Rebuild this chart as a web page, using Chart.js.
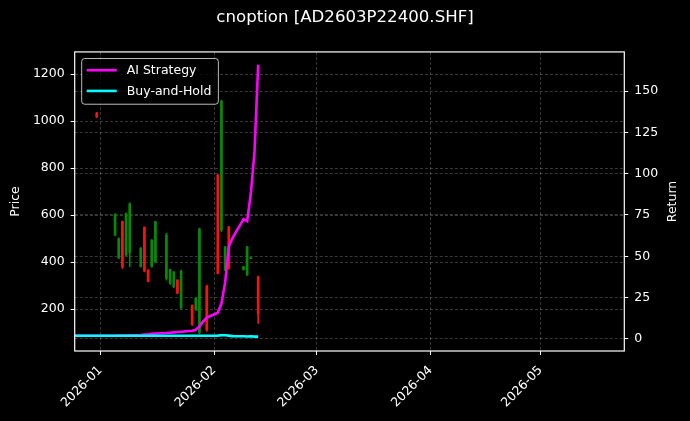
<!DOCTYPE html>
<html>
<head>
<meta charset="utf-8">
<script src="https://cdn.jsdelivr.net/npm/chart.js@4.4.1/dist/chart.umd.min.js"></script>
<style>
  html, body { margin:0; padding:0; background:#000; overflow:hidden }
  #wrap { width:690px; height:421px }
</style>
</head>
<body>
<div id="wrap"><canvas id="chart" width="690" height="421"></canvas></div>
<script>
// Chart text
const titleText   = 'cnoption [AD2603P22400.SHF]'
const priceLabel  = 'Price'
const returnLabel = 'Return'
const aiName      = 'AI Strategy'
const bhName      = 'Buy-and-Hold'

// Axis ticks
const monthTickDates  = ['2026-01-01','2026-02-01','2026-03-01','2026-04-01','2026-05-01']
const monthTickLabels = ['2026-01','2026-02','2026-03','2026-04','2026-05']
const priceTicks  = [200, 400, 600, 800, 1000, 1200]
const returnTicks = [0, 25, 50, 75, 100, 125, 150]

// Return series (right axis)
const lineDates = ['2025-12-25','2025-12-26','2025-12-29','2025-12-30','2025-12-31',
  '2026-01-05','2026-01-06','2026-01-07','2026-01-08','2026-01-09',
  '2026-01-12','2026-01-13','2026-01-14','2026-01-15','2026-01-16',
  '2026-01-19','2026-01-20','2026-01-21','2026-01-22','2026-01-23',
  '2026-01-26','2026-01-27','2026-01-28','2026-01-29','2026-01-30',
  '2026-02-02','2026-02-03','2026-02-04','2026-02-05','2026-02-06',
  '2026-02-09','2026-02-10','2026-02-11','2026-02-12','2026-02-13']
const aiReturn = [1.8, 1.8, 1.8, 1.8, 1.8,
  1.8, 1.9, 1.9, 2.0, 2.1,
  2.3, 2.5, 2.7, 3.0, 3.2,
  3.5, 3.7, 3.9, 4.1, 4.3,
  4.9, 5.5, 7.5, 10.5, 12.8,
  15.8, 21.4, 34, 56, 61,
  72.5, 71.3, 88, 113, 166]
const bhReturn = [1.8, 1.8, 1.8, 1.8, 1.8,
  1.8, 1.8, 1.8, 1.8, 1.8,
  1.8, 1.8, 1.8, 1.8, 1.8,
  1.8, 1.8, 1.8, 1.8, 1.8,
  1.8, 1.8, 1.8, 1.8, 1.8,
  1.9, 2.1, 2.1, 1.9, 1.6,
  1.5, 1.4, 1.5, 1.3, 1.3]

// Daily candles (left axis)
const candleDates = ['2025-12-31','2026-01-05','2026-01-06','2026-01-07','2026-01-08','2026-01-09',
  '2026-01-12','2026-01-13','2026-01-14','2026-01-15','2026-01-16',
  '2026-01-19','2026-01-20','2026-01-21','2026-01-22','2026-01-23',
  '2026-01-26','2026-01-27','2026-01-28','2026-01-30',
  '2026-02-02','2026-02-03','2026-02-04','2026-02-05',
  '2026-02-09','2026-02-10','2026-02-11','2026-02-13']
const opens  = [1035, 515, 418, 572, 430, 440, 380, 548, 366, 380, 401, 330, 309, 295, 323, 205, 215, 196, 100, 298, 770, 536, 366, 550, 368, 345, 416, 337]
const highs  = [1038, 606, 503, 575, 610, 652, 462, 550, 368, 496, 574, 522, 370, 360, 325, 366, 218, 248, 545, 302, 775, 1090, 467, 552, 382, 467, 420, 340]
const lows   = [1015, 512, 415, 373, 425, 380, 378, 358, 315, 378, 398, 323, 305, 290, 265, 200, 130, 194, 95, 105, 350, 530, 363, 370, 366, 343, 415, 139]
const closes = [1018, 604, 500, 378, 605, 648, 460, 362, 318, 494, 572, 515, 368, 358, 268, 362, 135, 246, 540, 110, 352, 1085, 465, 373, 380, 465, 419, 182]

// UTIL: days since start of axis
const originMs = Date.parse('2025-12-25T00:00:00Z')
function day(s){ return (Date.parse(s + 'T00:00:00Z') - originMs) / 86400000 }

const UP = '#078a07', DOWN = '#ff1010'
const font = { family:'"DejaVu Sans", sans-serif', size:12.5 }

const candleColors = closes.map((c,i) => c >= opens[i] ? UP : DOWN)
const wickData = candleDates.map((d,i) => ({ x: day(d), y: [lows[i], highs[i]] }))
const bodyData = candleDates.map((d,i) => ({ x: day(d), y: [opens[i], closes[i]] }))
const aiData = lineDates.map((d,i) => ({ x: day(d), y: aiReturn[i] }))
const bhData = lineDates.map((d,i) => ({ x: day(d), y: bhReturn[i] }))

// Frame, background, right axis title and legend box
const decor = {
  id: 'decor',
  beforeDraw(c){
    const ctx = c.ctx
    ctx.save(); ctx.fillStyle = '#000'; ctx.fillRect(0, 0, c.width, c.height); ctx.restore()
  },
  afterDraw(c){
    const ctx = c.ctx, a = c.chartArea
    ctx.save()
    ctx.strokeStyle = '#fff'; ctx.lineWidth = 1.2
    ctx.strokeRect(a.left, a.top, a.right - a.left, a.bottom - a.top)

    // right axis title, reads bottom to top like matplotlib
    ctx.font = '12.5px "DejaVu Sans", sans-serif'
    ctx.fillStyle = '#fff'; ctx.textAlign = 'center'; ctx.textBaseline = 'middle'
    ctx.translate(673, (a.top + a.bottom) / 2)
    ctx.rotate(-Math.PI / 2)
    ctx.fillText(returnLabel, 0, 0)
    ctx.setTransform(1, 0, 0, 1, 0, 0)

    // legend
    const items = [[aiName, '#ff00ff'], [bhName, '#00ffff']]
    const tw = Math.max(...items.map(it => ctx.measureText(it[0]).width))
    const bx = a.left + 7, by = a.top + 6.6, bw = 45 + tw + 7, bh = 45.7
    ctx.beginPath(); ctx.roundRect(bx, by, bw, bh, 3)
    ctx.fillStyle = 'rgba(0,0,0,0.8)'; ctx.fill()
    ctx.strokeStyle = 'rgba(220,220,220,0.85)'; ctx.lineWidth = 1; ctx.stroke()
    items.forEach((it, i) => {
      const y = by + 11.7 + i * 20.7
      ctx.strokeStyle = it[1]; ctx.lineWidth = 2.6
      ctx.beginPath(); ctx.moveTo(bx + 5, y); ctx.lineTo(bx + 35, y); ctx.stroke()
      ctx.fillStyle = '#fff'; ctx.textBaseline = 'middle'; ctx.textAlign = 'left'
      ctx.fillText(it[0], bx + 45, y + 0.5)
    })
    ctx.restore()
  }
}

const gridCommon = { color:'rgba(255,255,255,0.28)', lineWidth:0.8, drawTicks:true, tickLength:4, tickColor:'#fff', tickWidth:1, offset:false }
const borderCommon = { display:false, dash:[3,2] }

new Chart(document.getElementById('chart').getContext('2d'), {
  type: 'line',
  data: {
    datasets: [
      { type:'line', label:bhName, data:bhData, yAxisID:'y1', borderColor:'#00ffff', borderWidth:2.6, pointRadius:0, order:0 },
      { type:'line', label:aiName, data:aiData, yAxisID:'y1', borderColor:'#ff00ff', borderWidth:2.6, pointRadius:0, order:1 },
      { type:'bar', label:'body', data:bodyData, yAxisID:'y', backgroundColor:candleColors, barThickness:2, grouped:false, borderWidth:0, order:2 },
      { type:'bar', label:'wick', data:wickData, yAxisID:'y', backgroundColor:candleColors, barThickness:1, grouped:false, borderWidth:0, order:3 }
    ]
  },
  options: {
    responsive: false,
    animation: false,
    devicePixelRatio: 1,
    layout: { padding: 0 },
    plugins: {
      legend: { display:false },
      tooltip: { enabled:false },
      title: { display:true, text:titleText, color:'#fff', font:{ family:font.family, size:16.6, weight:'normal' }, padding:{ top:8, bottom:24 } }
    },
    scales: {
      x: {
        type:'linear', min:0, max:day('2026-05-23') + 0.8, offset:false,
        afterBuildTicks: s => { s.ticks = monthTickDates.map(d => ({ value: day(d) })) },
        afterFit: s => { s.height = 70 },
        ticks: { color:'#fff', font, autoSkip:false, maxRotation:45, minRotation:45, padding:8,
          callback: (v, i) => monthTickLabels[i] },
        grid: gridCommon, border: borderCommon
      },
      y: {
        type:'linear', position:'left', min:21.3, max:1295,
        afterBuildTicks: s => { s.ticks = priceTicks.map(v => ({ value:v })) },
        afterFit: s => { s.width = 74.7 },
        ticks: { color:'#fff', font, padding:6, callback: v => String(v) },
        title: { display:true, text:priceLabel, color:'#fff', font, padding:{ top:8, bottom:0 } },
        grid: gridCommon, border: borderCommon
      },
      y1: {
        type:'linear', position:'right', min:-7.4, max:173.8,
        afterBuildTicks: s => { s.ticks = returnTicks.map(v => ({ value:v })) },
        afterFit: s => { s.width = 65.7 },
        ticks: { color:'#fff', font, padding:6, callback: v => String(v) },
        grid: gridCommon, border: borderCommon
      }
    }
  },
  plugins: [decor]
})
</script>
</body>
</html>
